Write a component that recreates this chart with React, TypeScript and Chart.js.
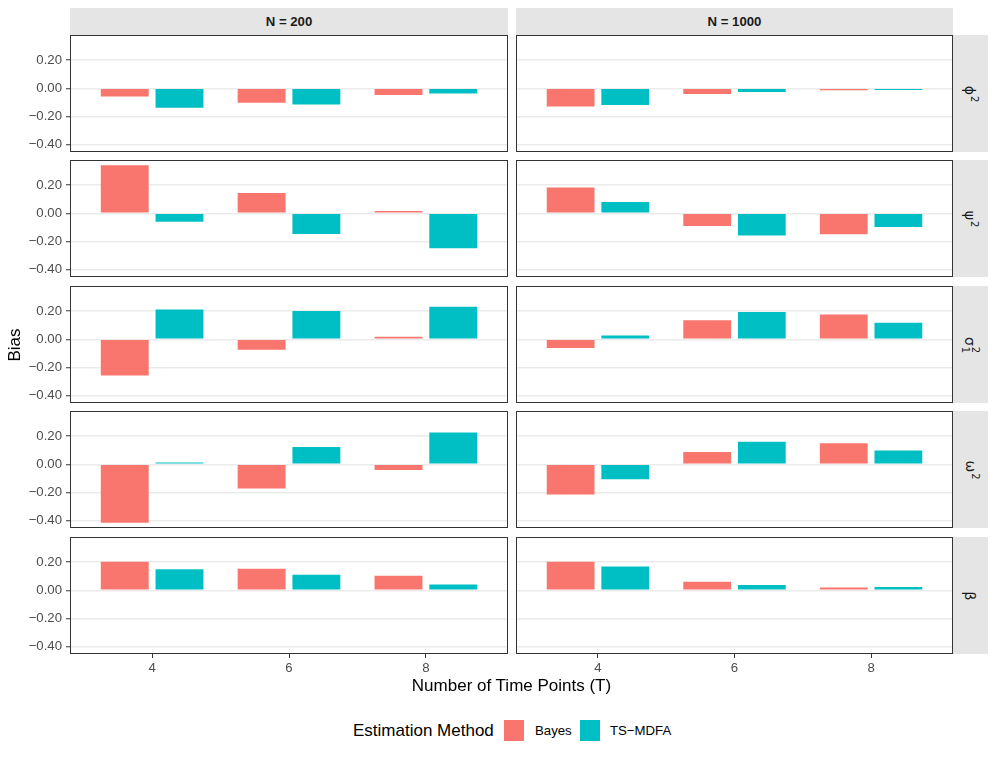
import React, { useEffect, useRef } from 'react';
import { Chart, registerables } from 'chart.js';

Chart.register(...registerables);

const FONT = '"Liberation Sans", Arial, Helvetica, sans-serif';

// ---- data ----
const timePoints = [4, 6, 8];
const sampleSizes = ['N = 200', 'N = 1000'];
const methods = ['Bayes', 'TS\u2212MDFA'];
const yTicks = [-0.4, -0.2, 0, 0.2];

const bayesPhi2N200 = [-0.057, -0.102, -0.047];
const tsPhi2N200 = [-0.137, -0.114, -0.036];
const bayesPhi2N1000 = [-0.128, -0.04, -0.014];
const tsPhi2N1000 = [-0.118, -0.026, -0.012];

const bayesPsi2N200 = [0.341, 0.145, 0.016];
const tsPsi2N200 = [-0.059, -0.146, -0.247];
const bayesPsi2N1000 = [0.183, -0.09, -0.148];
const tsPsi2N1000 = [0.08, -0.158, -0.097];

const bayesSigma2N200 = [-0.256, -0.073, 0.019];
const tsSigma2N200 = [0.212, 0.202, 0.231];
const bayesSigma2N1000 = [-0.061, 0.136, 0.176];
const tsSigma2N1000 = [0.028, 0.195, 0.118];

const bayesOmega2N200 = [-0.414, -0.171, -0.04];
const tsOmega2N200 = [0.014, 0.124, 0.226];
const bayesOmega2N1000 = [-0.214, 0.088, 0.15];
const tsOmega2N1000 = [-0.105, 0.16, 0.098];

const bayesBetaN200 = [0.203, 0.154, 0.104];
const tsBetaN200 = [0.149, 0.111, 0.042];
const bayesBetaN1000 = [0.203, 0.061, 0.021];
const tsBetaN1000 = [0.17, 0.038, 0.024];

const panelData: number[][][][] = [
  [[bayesPhi2N200, tsPhi2N200], [bayesPhi2N1000, tsPhi2N1000]],
  [[bayesPsi2N200, tsPsi2N200], [bayesPsi2N1000, tsPsi2N1000]],
  [[bayesSigma2N200, tsSigma2N200], [bayesSigma2N1000, tsSigma2N1000]],
  [[bayesOmega2N200, tsOmega2N200], [bayesOmega2N1000, tsOmega2N1000]],
  [[bayesBetaN200, tsBetaN200], [bayesBetaN1000, tsBetaN1000]],
];

const colors = ['#F8766D', '#00BFC4'];

// ---- layout ----
const PANEL_LEFT = [70, 516];
const PANEL_RIGHT = [508, 953];
const ROW_TOP = 35;
const ROW_STEP = 125.5;
const PANEL_H = 117;
const X_AXIS_H = 30;
const Y_AXIS_W = 70;

const allValues = panelData.flat(3);
const dMin = Math.min(...allValues);
const dMax = Math.max(...allValues);
const yMin = dMin - 0.05 * (dMax - dMin);
const yMax = dMax + 0.05 * (dMax - dMin);
const xStep = timePoints[1] - timePoints[0];
const xMin = timePoints[0] - 0.6 * xStep;
const xMax = timePoints[timePoints.length - 1] + 0.6 * xStep;

const fmt = (v: number) => (v < -1e-9 ? '\u2212' : '') + Math.abs(v).toFixed(2);

const borderPlugin = {
  id: 'panelBorder',
  afterDatasetsDraw(chart: any) {
    const { ctx, chartArea } = chart;
    const { left, top, right, bottom } = chartArea;
    ctx.save();
    ctx.strokeStyle = '#333333';
    ctx.lineWidth = 1;
    ctx.strokeRect(Math.round(left) + 0.5, Math.round(top) + 0.5, Math.round(right - left) - 1, Math.round(bottom - top) - 1);
    ctx.restore();
  },
};

const rowTop = (r: number) => Math.floor(ROW_TOP + r * ROW_STEP);

const sup = (t: string) => (
  <span style={{ fontSize: 10, position: 'relative', top: -6, marginLeft: 1 }}>{t}</span>
);

const paramLabels = [
  <span>{'\u03D5'}{sup('2')}</span>,
  <span>{'\u03C8'}{sup('2')}</span>,
  <span style={{ display: 'inline-flex', alignItems: 'center' }}>
    {'\u03C3'}
    <span style={{ display: 'inline-flex', flexDirection: 'column', fontSize: 10, lineHeight: '10px', marginLeft: 1 }}>
      <span>2</span>
      <span>1</span>
    </span>
  </span>,
  <span>{'\u03C9'}{sup('2')}</span>,
  <span>{'\u03B2'}</span>,
];

export default function App() {
  const canvasRefs = useRef<(HTMLCanvasElement | null)[]>([]);

  useEffect(() => {
    Chart.defaults.font.family = FONT;
    const charts: Chart[] = [];
    for (let r = 0; r < panelData.length; r++) {
      for (let c = 0; c < 2; c++) {
        const canvas = canvasRefs.current[r * 2 + c];
        if (!canvas) continue;
        const isLeft = c === 0;
        const isBottom = r === panelData.length - 1;
        const series = panelData[r][c];
        const chart = new Chart(canvas, {
          type: 'bar',
          data: {
            datasets: series.map((vals, k) => ({
              label: methods[k],
              data: timePoints.map((t, i) => ({ x: t, y: vals[i] })),
              backgroundColor: colors[k],
              borderWidth: 0,
              categoryPercentage: 0.8,
              barPercentage: 0.875,
            })),
          },
          options: {
            animation: false,
            responsive: false,
            maintainAspectRatio: false,
            events: [],
            layout: { padding: 0 },
            plugins: { legend: { display: false }, tooltip: { enabled: false }, title: { display: false } },
            scales: {
              x: {
                type: 'linear',
                min: xMin,
                max: xMax,
                offset: false,
                display: isBottom,
                afterBuildTicks: (s: any) => {
                  s.ticks = timePoints.map((v) => ({ value: v }));
                },
                afterFit: (s: any) => {
                  s.height = isBottom ? X_AXIS_H : 0;
                  s.paddingLeft = 0;
                  s.paddingRight = 0;
                },
                grid: {
                  offset: false,
                  drawOnChartArea: false,
                  drawTicks: true,
                  tickLength: 4,
                  tickColor: '#333333',
                  tickWidth: 1,
                },
                border: { display: false },
                ticks: {
                  color: '#4D4D4D',
                  font: { family: FONT, size: 13.2 },
                  padding: 2,
                  autoSkip: false,
                  maxRotation: 0,
                  callback: (v: any) => String(v),
                },
              } as any,
              y: {
                type: 'linear',
                min: yMin,
                max: yMax,
                afterBuildTicks: (s: any) => {
                  s.ticks = yTicks.map((v) => ({ value: v }));
                },
                afterFit: (s: any) => {
                  s.width = isLeft ? Y_AXIS_W : 0;
                  s.paddingTop = 0;
                  s.paddingBottom = 0;
                },
                grid: {
                  color: '#EBEBEB',
                  lineWidth: 1.5,
                  drawTicks: isLeft,
                  tickLength: 4,
                  tickColor: '#333333',
                  tickWidth: 1,
                },
                border: { display: false },
                ticks: {
                  display: isLeft,
                  color: '#4D4D4D',
                  font: { family: FONT, size: 13.2 },
                  padding: 4,
                  callback: (v: any) => fmt(Number(v)),
                },
              } as any,
            },
          },
          plugins: [borderPlugin],
        });
        charts.push(chart);
      }
    }
    return () => charts.forEach((ch) => ch.destroy());
  }, []);

  const canvases: React.ReactNode[] = [];
  for (let r = 0; r < panelData.length; r++) {
    for (let c = 0; c < 2; c++) {
      const isBottom = r === panelData.length - 1;
      const left = c === 0 ? 0 : PANEL_LEFT[1];
      const width = c === 0 ? PANEL_RIGHT[0] : PANEL_RIGHT[1] - PANEL_LEFT[1];
      const height = PANEL_H + (isBottom ? X_AXIS_H : 0);
      canvases.push(
        <canvas
          key={`c${r}-${c}`}
          ref={(el) => {
            canvasRefs.current[r * 2 + c] = el;
          }}
          width={width}
          height={height}
          style={{ position: 'absolute', left, top: rowTop(r), width, height }}
        />
      );
    }
  }

  const stripBg = '#E5E5E5';

  return (
    <div
      style={{
        position: 'absolute',
        left: 0,
        top: 0,
        width: 996,
        height: 759,
        background: '#FFFFFF',
        fontFamily: FONT,
        overflow: 'hidden',
      }}
    >
      {canvases}
      {sampleSizes.map((s, c) => (
        <div
          key={s}
          style={{
            position: 'absolute',
            left: PANEL_LEFT[c],
            top: 8,
            width: PANEL_RIGHT[c] - PANEL_LEFT[c],
            height: ROW_TOP - 8,
            background: stripBg,
            display: 'flex',
            alignItems: 'center',
            justifyContent: 'center',
            fontWeight: 'bold',
            fontSize: 13.2,
            color: '#1A1A1A',
          }}
        >
          {s}
        </div>
      ))}
      {paramLabels.map((lab, r) => (
        <div
          key={r}
          style={{
            position: 'absolute',
            left: PANEL_RIGHT[1],
            top: rowTop(r),
            width: 35,
            height: PANEL_H,
            background: stripBg,
            display: 'flex',
            alignItems: 'center',
            justifyContent: 'center',
            fontSize: 14,
            color: '#1A1A1A',
          }}
        >
          <div style={{ transform: 'rotate(90deg)', whiteSpace: 'nowrap', fontFamily: '"DejaVu Sans", sans-serif' }}>{lab}</div>
        </div>
      ))}
      <div
        style={{
          position: 'absolute',
          left: 15 - 50,
          top: (rowTop(0) + rowTop(4) + PANEL_H) / 2 - 10,
          width: 100,
          height: 20,
          lineHeight: '20px',
          textAlign: 'center',
          transform: 'rotate(-90deg)',
          fontSize: 17,
          color: '#000000',
        }}
      >
        Bias
      </div>
      <div
        style={{
          position: 'absolute',
          left: PANEL_LEFT[0],
          top: 676,
          width: PANEL_RIGHT[1] - PANEL_LEFT[0],
          height: 20,
          lineHeight: '20px',
          textAlign: 'center',
          fontSize: 17,
          color: '#000000',
        }}
      >
        Number of Time Points (T)
      </div>
      <div style={{ position: 'absolute', left: 353, top: 721, height: 20, lineHeight: '20px', fontSize: 17, color: '#000000', whiteSpace: 'nowrap' }}>
        Estimation Method
      </div>
      {methods.map((m, k) => (
        <React.Fragment key={m}>
          <div style={{ position: 'absolute', left: k === 0 ? 504 : 580, top: 720, width: 20, height: 21, background: colors[k] }} />
          <div
            style={{
              position: 'absolute',
              left: k === 0 ? 535 : 610,
              top: 721,
              height: 20,
              lineHeight: '20px',
              fontSize: 13.2,
              color: '#000000',
              whiteSpace: 'nowrap',
            }}
          >
            {m}
          </div>
        </React.Fragment>
      ))}
    </div>
  );
}
